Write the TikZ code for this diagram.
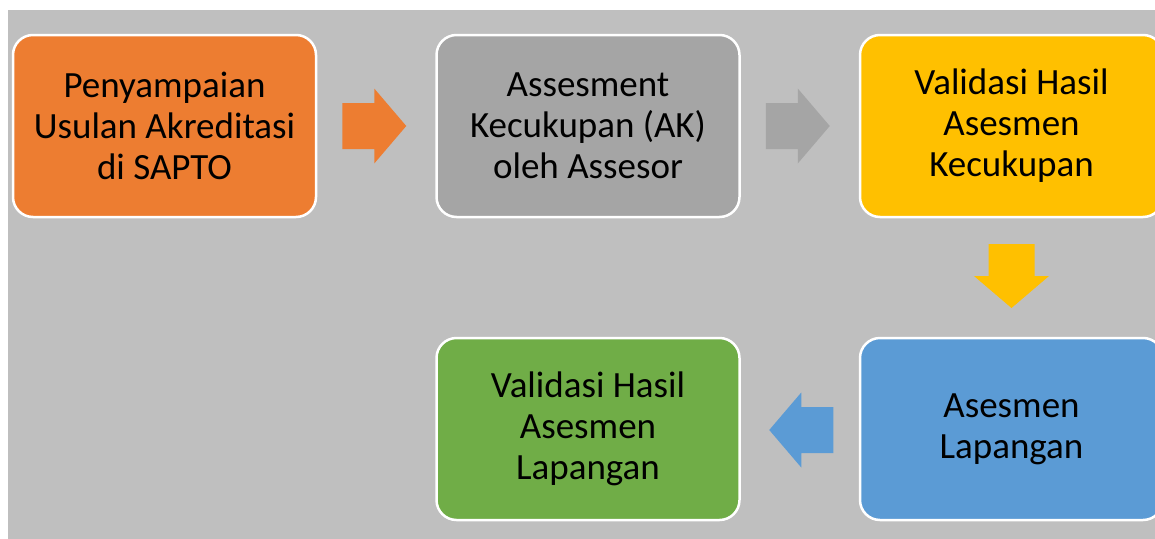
\documentclass[tikz,border=0pt]{standalone}
\usepackage{fontspec}
\setmainfont{Carlito}
\usetikzlibrary{calc}
\definecolor{bgGray}{HTML}{BFBFBF}
\definecolor{cOrange}{HTML}{ED7D31}
\definecolor{cGray}{HTML}{A5A5A5}
\definecolor{cYellow}{HTML}{FFC000}
\definecolor{cBlue}{HTML}{5B9BD5}
\definecolor{cGreen}{HTML}{70AD47}
\tikzset{
  stepbox/.style={rectangle, rounded corners=20pt, draw=white, line width=2.5pt,
    minimum width=303pt, minimum height=182pt, inner sep=0pt, outer sep=0pt,
    align=center, text=black, font=\fontsize{37}{41}\selectfont},
  blockarrow/.pic={\fill[#1] (-32,-23) -- (0,-23) -- (0,-37.5) -- (32,0) -- (0,37.5) -- (0,23) -- (-32,23) -- cycle;}
}
\begin{document}
\begin{tikzpicture}[x=1pt,y=-1pt]
\useasboundingbox (0,0) rectangle (1155,538);
\clip (0,0) rectangle (1155,538);
\fill[bgGray] (8,10) rectangle (1160,540);
\node[stepbox, fill=cOrange] (a) at (164.5,126) {Penyampaian\\Usulan Akreditasi\\di SAPTO};
\node[stepbox, fill=cGray] (b) at (588,126) {Assesment\\Kecukupan (AK)\\oleh Assesor};
\node[stepbox, fill=cYellow] (c) at (1011.5,126) {Validasi Hasil\\Asesmen\\Kecukupan};
\node[stepbox, fill=cBlue] (d) at (1011.5,429) {Asesmen\\Lapangan};
\node[stepbox, fill=cGreen] (e) at (588,429) {Validasi Hasil\\Asesmen\\Lapangan};
\pic at ($(a.east)!0.5!(b.west)+(-2,0)$) {blockarrow=cOrange};
\pic at ($(b.east)!0.5!(c.west)+(-2,0)$) {blockarrow=cGray};
\pic[rotate=-90] at ($(c.south)!0.5!(d.north)+(0,-1.5)$) {blockarrow=cYellow};
\pic[rotate=180] at ($(e.east)!0.5!(d.west)+(1.5,1)$) {blockarrow=cBlue};
\end{tikzpicture}
\end{document}
